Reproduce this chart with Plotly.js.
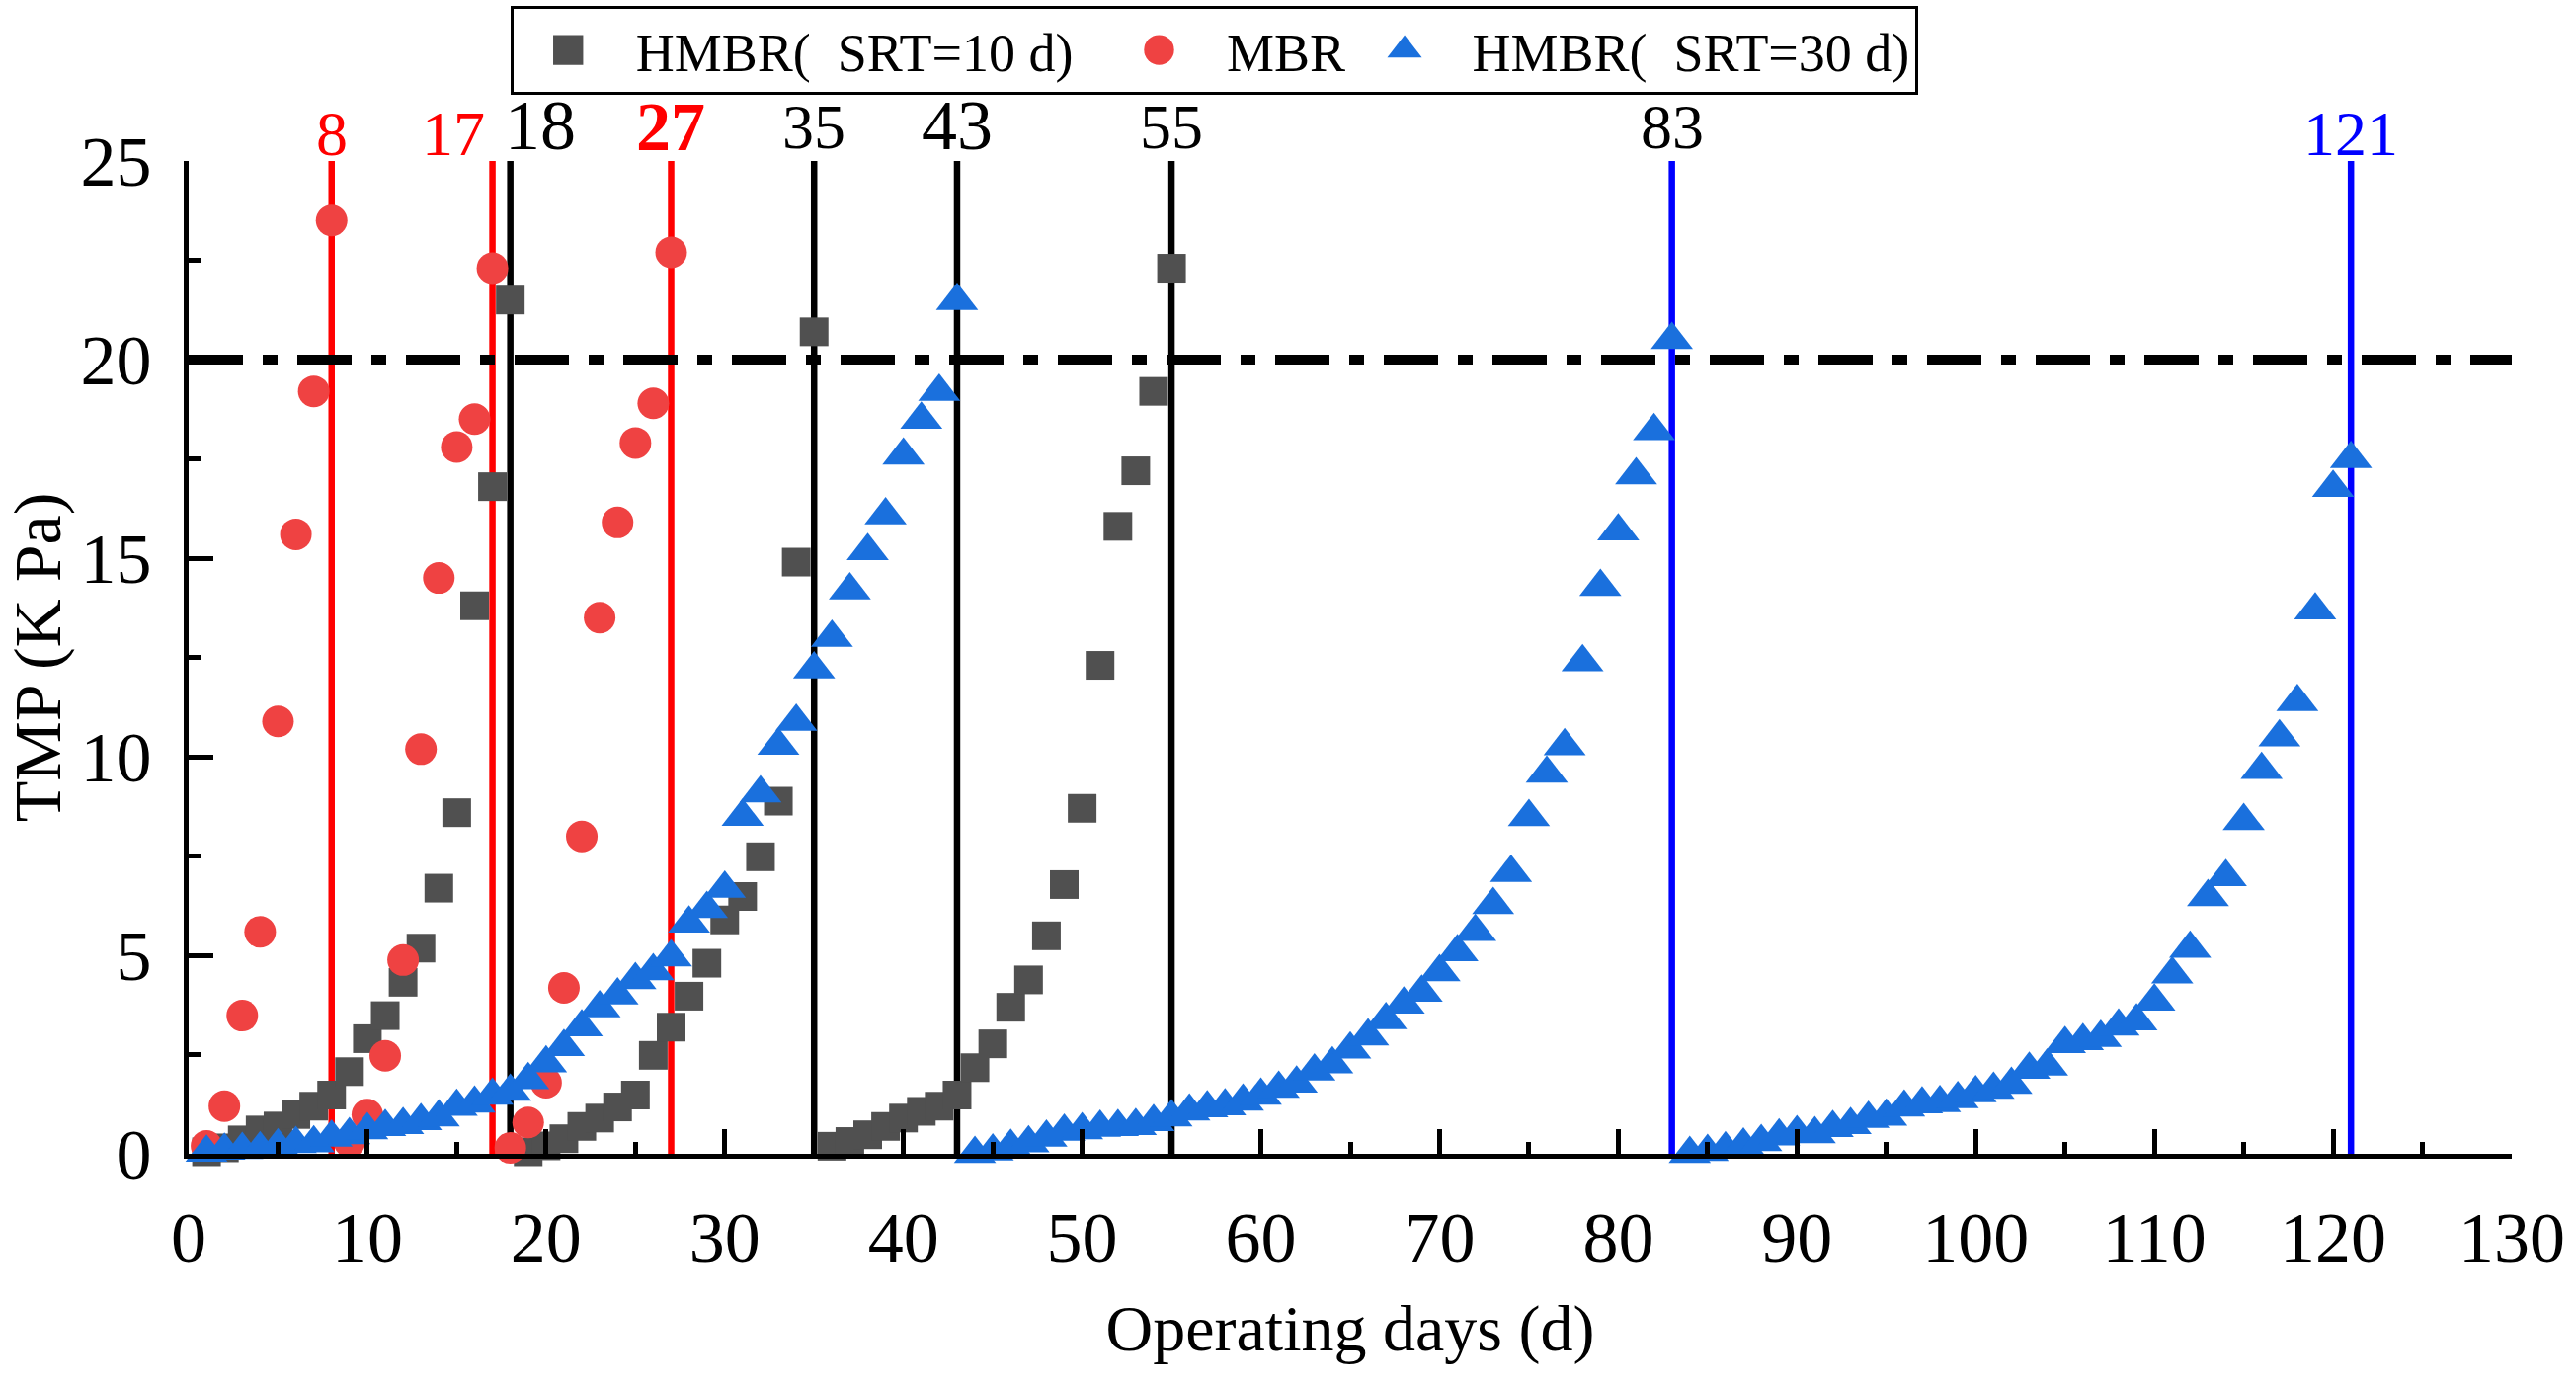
<!DOCTYPE html>
<html>
<head>
<meta charset="utf-8">
<script src="https://cdn.plot.ly/plotly-3.0.1.min.js"></script>
<style>
  html, body { margin: 0; padding: 0; background: #fff; }
  #chart { width: 2608px; height: 1402px; }
</style>
</head>
<body>
<div id="chart"></div>
<script>
// HMBR (SRT=10 d), squares
var srt10Days = [1, 2, 3, 4, 5, 6, 7, 8, 9, 10, 11, 12, 13, 14, 15, 16, 17, 18,
    19, 20, 21, 22, 23, 24, 25, 26, 27, 28, 29, 30, 31, 32, 33, 34, 35,
    36, 37, 38, 39, 40, 41, 42, 43, 44, 45, 46, 47, 48, 49, 50, 51, 52, 53, 54, 55];
var srt10Tmp = [0.05, 0.15, 0.35, 0.6, 0.7, 0.99, 1.2, 1.48, 2.07, 2.9, 3.48, 4.32, 5.18, 6.69, 8.59, 13.8, 16.8, 21.5,
    0.05, 0.2, 0.38, 0.69, 0.9, 1.18, 1.48, 2.48, 3.19, 3.97, 4.8, 5.89, 6.48, 7.48, 8.88, 14.9, 20.7,
    0.19, 0.31, 0.48, 0.69, 0.9, 1.07, 1.2, 1.48, 2.17, 2.77, 3.69, 4.38, 5.49, 6.78, 8.7, 12.3, 15.8, 17.2, 19.2, 22.3];

// MBR, circles
var mbrDays = [1, 2, 3, 4, 5, 6, 7, 8, 9, 10, 11, 12, 13, 14, 15, 16, 17,
    18, 19, 20, 21, 22, 23, 24, 25, 26, 27];
var mbrTmp = [0.2, 1.2, 3.48, 5.59, 10.89, 15.6, 19.2, 23.5, 0.3, 0.99, 2.47, 4.88, 10.19, 14.5, 17.8, 18.5, 22.3,
    0.15, 0.79, 1.79, 4.18, 7.99, 13.5, 15.9, 17.9, 18.9, 22.7];

// HMBR (SRT=30 d), triangles
var srt30Days = [1, 2, 3, 4, 5, 6, 7, 8, 9, 10, 11, 12, 13, 14, 15, 16, 17, 18, 19, 20,
    21, 22, 23, 24, 25, 26, 27, 28, 29, 30, 31, 32, 33, 34, 35, 36, 37, 38, 39, 40, 41, 42, 43,
    44, 45, 46, 47, 48, 49, 50, 51, 52, 53, 54, 55, 56, 57, 58, 59, 60, 61, 62, 63,
    64, 65, 66, 67, 68, 69, 70, 71, 72, 73, 74, 75, 76, 77, 78, 79, 80, 81, 82, 83,
    84, 85, 86, 87, 88, 89, 90, 91, 92, 93, 94, 95, 96, 97, 98, 99, 100, 101, 102,
    103, 104, 105, 106, 107, 108, 109, 110, 111, 112, 113, 114, 115, 116, 117, 118, 119, 120, 121];
var srt30Tmp = [0.03, 0.08, 0.1, 0.12, 0.19, 0.25, 0.27, 0.41, 0.47, 0.6, 0.68, 0.73, 0.83, 0.92, 1.19, 1.27, 1.47, 1.57, 1.86, 2.28,
    2.69, 3.19, 3.67, 3.99, 4.38, 4.6, 4.95, 5.8, 6.17, 6.68, 8.49, 9.08, 10.28, 10.88, 12.2, 13.0, 14.19, 15.18, 16.08, 17.59, 18.49, 19.19, 21.48,
    0.0, 0.06, 0.18, 0.27, 0.41, 0.56, 0.6, 0.66, 0.68, 0.7, 0.8, 0.92, 1.07, 1.15, 1.2, 1.32, 1.47, 1.64, 1.77, 2.08,
    2.26, 2.63, 2.96, 3.37, 3.76, 4.06, 4.58, 5.08, 5.59, 6.27, 7.08, 8.48, 9.58, 10.27, 12.38, 14.28, 15.68, 17.09, 18.2, 20.5,
    0.0, 0.05, 0.12, 0.21, 0.3, 0.44, 0.52, 0.5, 0.65, 0.73, 0.88, 0.94, 1.17, 1.25, 1.28, 1.38, 1.53, 1.62, 1.74,
    2.12, 2.2, 2.77, 2.84, 2.92, 3.21, 3.34, 3.84, 4.52, 5.17, 6.47, 6.97, 8.38, 9.67, 10.49, 11.38, 13.69, 16.77, 17.5];

// cleaning days (vertical lines) and their labels
var cleanDays = [8, 17, 18, 27, 35, 43, 55, 83, 121];
var cleanLabels = ['8', '17', '18', '<b>27</b>', '35', '43', '55', '83', '121'];
var limitTmp = 20;

var xTicks = [0, 10, 20, 30, 40, 50, 60, 70, 80, 90, 100, 110, 120, 130];
var yTicks = [0, 5, 10, 15, 20, 25];

var FONT = '"Liberation Serif", "Times New Roman", serif';
var NB = '\u00a0';

// line colour, label colour, label size, label anchor, shifts
var lineStyle = {
    8:   { line: '#ff0000', text: '#ff0000', size: 64, anchor: 'center', dx: 0,  dy: -10 },
    17:  { line: '#ff0000', text: '#ff0000', size: 64, anchor: 'right',  dx: -6, dy: -10 },
    18:  { line: '#000000', text: '#000000', size: 72, anchor: 'left',   dx: -8, dy: -6 },
    27:  { line: '#ff0000', text: '#ff0000', size: 70, anchor: 'center', dx: 0,  dy: -6 },
    35:  { line: '#000000', text: '#000000', size: 64, anchor: 'center', dx: 0,  dy: -3 },
    43:  { line: '#000000', text: '#000000', size: 72, anchor: 'center', dx: 0,  dy: -6 },
    55:  { line: '#000000', text: '#000000', size: 64, anchor: 'center', dx: 0,  dy: -3 },
    83:  { line: '#0000ff', text: '#000000', size: 64, anchor: 'center', dx: 0,  dy: -3 },
    121: { line: '#0000ff', text: '#0000ff', size: 64, anchor: 'center', dx: 0,  dy: -10 }
};

var shapes = [];
var annotations = [];

cleanDays.forEach(function (d, i) {
    var s = lineStyle[d];
    shapes.push({
        type: 'line', xref: 'x', yref: 'y',
        x0: d, x1: d, y0: 0, y1: 25,
        line: { color: s.line, width: 6.5 },
        layer: 'below'
    });
    annotations.push({
        xref: 'x', yref: 'paper', x: d, y: 1,
        xanchor: s.anchor, yanchor: 'bottom',
        xshift: s.dx, yshift: s.dy,
        text: cleanLabels[i], showarrow: false,
        font: { family: FONT, size: s.size, color: s.text }
    });
});

// TMP limit, dash-dot
shapes.push({
    type: 'line', xref: 'x', yref: 'y',
    x0: 0, x1: 130, y0: limitTmp, y1: limitTmp,
    line: { color: '#000000', width: 10, dash: '55px,20px,15px,20px' },
    layer: 'below'
});

var traces = [{
    x: srt10Days, y: srt10Tmp,
    name: NB + 'HMBR(' + NB + ' SRT=10 d)' + NB + NB,
    type: 'scatter', mode: 'markers', cliponaxis: false,
    marker: { symbol: 'square', size: 29, color: '#505050' }
}, {
    x: mbrDays, y: mbrTmp,
    name: NB + 'MBR',
    type: 'scatter', mode: 'markers', cliponaxis: false,
    marker: { symbol: 'circle', size: 32, color: '#ef4242' }
}, {
    x: srt30Days, y: srt30Tmp,
    name: NB + 'HMBR(' + NB + ' SRT=30 d)',
    type: 'scatter', mode: 'markers', cliponaxis: false,
    marker: { symbol: 'triangle-up', size: 37, color: '#1a70dd' }
}];

var axisCommon = {
    showline: true, linecolor: '#000', linewidth: 5,
    showgrid: false, zeroline: false,
    ticks: 'inside', ticklen: 25, tickwidth: 5, tickcolor: '#000',
    tickfont: { family: FONT, size: 72, color: '#000' },
    ticklabelstandoff: 18
};

var layout = {
    width: 2608, height: 1402,
    margin: { l: 191, r: 65, t: 163, b: 234, autoexpand: false },
    paper_bgcolor: '#fff', plot_bgcolor: '#fff',
    font: { family: FONT, color: '#000' },
    showlegend: true,
    legend: {
        orientation: 'h', x: 0.1387, y: 1.1562, xanchor: 'left', yanchor: 'top',
        bgcolor: '#fff', bordercolor: '#000', borderwidth: 3,
        font: { family: FONT, size: 54, color: '#000' },
        itemwidth: 100
    },
    xaxis: Object.assign({}, axisCommon, {
        range: [0, 130], tickmode: 'array', tickvals: xTicks,
        minor: { dtick: 5, ticks: 'inside', ticklen: 12, tickwidth: 5, tickcolor: '#000' },
        title: { text: 'Operating days (d)', font: { family: FONT, size: 66 }, standoff: 30 }
    }),
    yaxis: Object.assign({}, axisCommon, {
        range: [0, 25], tickmode: 'array', tickvals: yTicks,
        minor: { dtick: 2.5, ticks: 'inside', ticklen: 12, tickwidth: 5, tickcolor: '#000' },
        title: { text: 'TMP (K Pa)', font: { family: FONT, size: 68 }, standoff: 36 }
    }),
    shapes: shapes,
    annotations: annotations
};

Plotly.newPlot('chart', traces, layout, { displayModeBar: false, staticPlot: true }).then(function () {
    // legend symbols are capped at 16px by plotly, enlarge them to match the plot markers
    document.querySelectorAll('.legend .legendpoints path.scatterpts').forEach(function (p) {
        var t = p.getAttribute('transform') || '';
        p.setAttribute('transform', t + ' scale(1.9)');
    });
});
</script>
</body>
</html>
